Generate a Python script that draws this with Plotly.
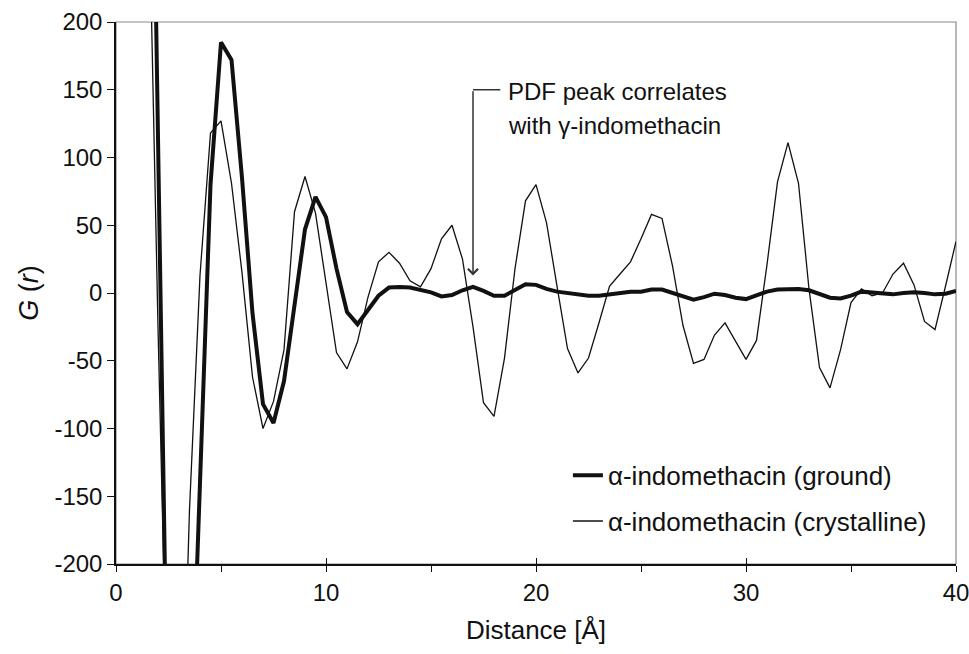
import plotly.graph_objects as go

# Radial distance grid (Å)
r = [1.5, 2.0, 2.5, 3.0, 3.5, 4.0, 4.5, 5.0, 5.5, 6.0, 6.5, 7.0, 7.5, 8.0, 8.5, 9.0,
     9.5, 10.0, 10.5, 11.0, 11.5, 12.0, 12.5, 13.0, 13.5, 14.0, 14.5, 15.0, 15.5, 16.0,
     16.5, 17.0, 17.5, 18.0, 18.5, 19.0, 19.5, 20.0, 20.5, 21.0, 21.5, 22.0, 22.5, 23.0,
     23.5, 24.0, 24.5, 25.0, 25.5, 26.0, 26.5, 27.0, 27.5, 28.0, 28.5, 29.0, 29.5, 30.0,
     30.5, 31.0, 31.5, 32.0, 32.5, 33.0, 33.5, 34.0, 34.5, 35.0, 35.5, 36.0, 36.5, 37.0,
     37.5, 38.0, 38.5, 39.0, 39.5, 40.0]

# G(r) of ground alpha-indomethacin
g_ground = [600, 130, -370, -480, -360, -140, 80, 185, 172, 85, -15, -82, -96, -65, -9, 47,
            71, 56, 18, -14, -23, -12, -2, 4, 4.5, 4, 2.5, 0.5, -2.5, -1.5,
            2, 4.5, 1.5, -2, -2, 2.5, 6.5, 6, 3, 1, 0, -1, -2, -2,
            -1, 0.5, 1, 1, 2.5, 2.5, 0, -3, -5, -3, -0.5, -1.5, -3.5, -4.5,
            -2, 1, 2.5, 3, 3, 2, -1, -3.5, -4, -2, 1, 0.5, -0.5, -1,
            0, 0.5, 0, -1, -0.5, 1.5]

# G(r) of crystalline alpha-indomethacin
g_cryst = [345, -25, -350, -420, -160, 13, 118, 127, 81, 15, -62, -100, -80, -42, 60, 86,
           59, 6, -44, -56, -36, -3, 23, 30, 22, 9, 4.5, 18, 40, 50,
           25, -25, -81, -91, -48, 18, 68, 80, 52, 5, -41, -59, -48, -22,
           5, 14, 23, 40, 58, 55, 20, -24, -52, -49, -31, -22, -36, -49,
           -35, 21, 82, 111, 81, 3, -55, -70, -42, -7, 3, -2, 0, 14,
           22, 6, -21, -27, 5, 38]

x_ticks = [0, 10, 20, 30, 40]
y_ticks = [-200, -150, -100, -50, 0, 50, 100, 150, 200]
y_tick_text = ["-200", "-150", "-100", "-50", "0", "50", "100", "150", "200"]

FONT = "Liberation Sans, Arial, sans-serif"
INK = "#111111"
LEADER = "#333333"

fig = go.Figure()
fig.add_trace(go.Scatter(
    x=r, y=g_ground, mode="lines", name="α-indomethacin (ground)",
    line=dict(color=INK, width=4), legendgroup="g"))
fig.add_trace(go.Scatter(
    x=r, y=g_cryst, mode="lines", name="α-indomethacin (crystalline)",
    line=dict(color=INK, width=1.3), legendgroup="c"))
# empty trace so the overlay axis carrying the inward tick halves is drawn
fig.add_trace(go.Scatter(x=[], y=[], xaxis="x2", yaxis="y", showlegend=False,
                         hoverinfo="skip"))

# Grey frame on the top and right edges of the plot area
fig.add_shape(type="rect", xref="paper", yref="paper", x0=0, y0=0, x1=1, y1=1,
              line=dict(color="#8a8a8a", width=1.2), layer="below")

# Callout: elbow leader from the label down to the peak near 17 Å
fig.add_shape(type="line", xref="x", yref="y", x0=17.0, y0=150, x1=18.3, y1=150,
              line=dict(color=LEADER, width=1.5))
fig.add_annotation(x=17.0, y=13, ax=17.0, ay=150, xref="x", yref="y",
                   axref="x", ayref="y", text="", showarrow=True,
                   arrowhead=4, arrowsize=1.3, arrowwidth=1.5, arrowcolor=LEADER)
fig.add_annotation(x=18.55, y=150, xref="x", yref="y", xanchor="left", yanchor="middle",
                   text="PDF peak correlates", showarrow=False, yshift=-2,
                   font=dict(family=FONT, size=24, color=INK))
fig.add_annotation(x=18.55, y=150, xref="x", yref="y", xanchor="left", yanchor="middle",
                   text="with γ-indomethacin", showarrow=False, yshift=-36,
                   font=dict(family=FONT, size=24, color=INK))

fig.update_layout(
    width=969, height=654,
    margin=dict(l=116, r=13, t=22, b=90),
    paper_bgcolor="white", plot_bgcolor="white",
    font=dict(family=FONT, size=23, color=INK),
    showlegend=True,
    legend=dict(x=0.538, y=0.207, xanchor="left", yanchor="top",
                bgcolor="rgba(0,0,0,0)", tracegroupgap=9, itemwidth=30,
                font=dict(family=FONT, size=26, color=INK)),
    xaxis=dict(range=[0, 40], tickvals=x_ticks, ticks="outside", ticklen=6,
               tickwidth=1.2, tickcolor=INK, showline=True, linecolor=INK, linewidth=1.5,
               showgrid=False, zeroline=False, automargin=False,
               ticklabeloverflow="allow",
               minor=dict(dtick=5, ticks="outside", ticklen=6, tickcolor=INK, tickwidth=1),
               title=dict(text="Distance [Å]", standoff=16,
                          font=dict(family=FONT, size=26, color=INK)),
               tickfont=dict(family=FONT, size=24, color=INK)),
    # inward halves of the major x ticks
    xaxis2=dict(range=[0, 40], overlaying="x", anchor="y", side="bottom",
                tickvals=x_ticks, ticks="inside", ticklen=6, tickwidth=1.2,
                tickcolor=INK, showticklabels=False, showline=False, showgrid=False,
                zeroline=False, automargin=False),
    yaxis=dict(range=[-200, 200], tickvals=y_ticks, ticktext=y_tick_text,
               ticks="outside", ticklen=7,
               tickwidth=1.2, tickcolor=INK, showline=True, linecolor=INK, linewidth=1.5,
               showgrid=False, zeroline=False, automargin=False,
               title=dict(text="<i>G</i> (<i>r</i>)", standoff=8,
                          font=dict(family=FONT, size=27, color=INK)),
               tickfont=dict(family=FONT, size=24, color=INK)),
)

fig.write_html("out.html")
